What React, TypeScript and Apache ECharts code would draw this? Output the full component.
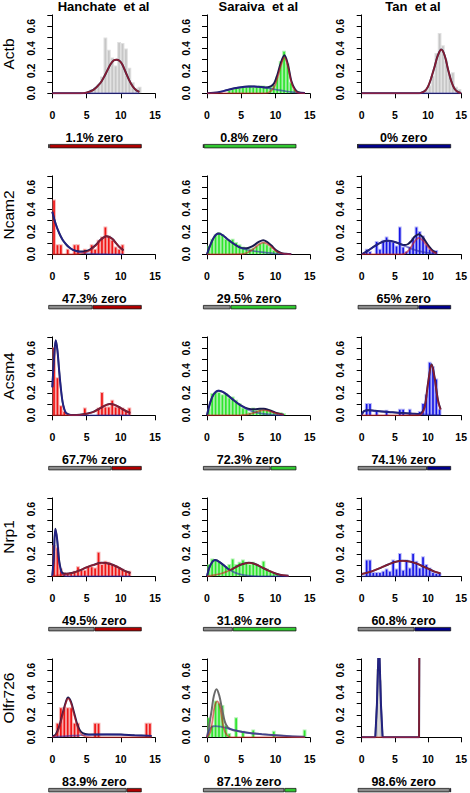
import React, { useEffect, useRef } from "react";
import * as echarts from "echarts";

const FONT = "'Liberation Sans', Arial, Helvetica, sans-serif";

const studies = ["Hanchate  et al", "Saraiva  et al", "Tan  et al"];
const genes = ["Actb", "Ncam2", "Acsm4", "Nrp1", "Olfr726"];
const zeroPct = [
  [1.1, 0.8, 0],
  [47.3, 29.5, 65],
  [67.7, 72.3, 74.1],
  [49.5, 31.8, 60.8],
  [83.9, 87.1, 98.6],
];
const xTickStep = 5;
const yTickStep = 0.1;

// ---------- Actb ----------
const actbHanHist = [[5.25,0.01],[5.75,0.03],[6.25,0.04],[6.75,0.07],[7.25,0.14],[7.75,0.49],[8.25,0.38],[8.75,0.31],[9.25,0.24],[9.75,0.45],[10.25,0.44],[10.75,0.39],[11.25,0.22],[11.75,0.09],[12.25,0.04],[12.75,0.05]];
const actbHanBlue = [[0,0],[12.7,0]];
const actbHanRed = [[0,0],[4,0],[5,0.006],[6,0.03],[7,0.09],[7.5,0.14],[8,0.2],[8.5,0.26],[9,0.295],[9.4,0.3],[9.8,0.29],[10.2,0.26],[10.7,0.19],[11.2,0.12],[11.7,0.065],[12.2,0.03],[12.7,0.012]];

const actbSarHist = [[3.25,0.02],[3.75,0.03],[4.25,0.04],[4.75,0.04],[5.25,0.05],[5.75,0.05],[6.25,0.06],[6.75,0.05],[7.25,0.05],[7.75,0.06],[8.25,0.06],[8.75,0.05],[9.25,0.05],[9.75,0.07],[10.25,0.14],[10.75,0.28],[11.25,0.37],[11.75,0.26],[12.25,0.09],[12.75,0.03],[13.25,0.01]];
const actbSarBlue = [[0,0],[1,0.004],[2,0.014],[3,0.03],[4,0.045],[5,0.055],[6,0.06],[6.8,0.061],[7.5,0.058],[8.5,0.05],[9.5,0.04],[10.5,0.028],[11.5,0.018],[12.5,0.01],[13.5,0.004],[14.3,0.002]];
const actbSarRed = [[0,0],[8,0],[8.8,0.003],[9.3,0.02],[9.8,0.055],[10.3,0.14],[10.8,0.25],[11.3,0.32],[11.8,0.245],[12.3,0.1],[12.8,0.03],[13.3,0.005],[14.3,0]];
const actbSarTotal = [[0,0],[1,0.004],[2,0.014],[3,0.03],[4,0.045],[5,0.055],[6,0.06],[6.8,0.061],[7.5,0.058],[8.5,0.052],[9.3,0.062],[9.8,0.09],[10.3,0.17],[10.8,0.275],[11.3,0.34],[11.8,0.26],[12.3,0.112],[12.8,0.04],[13.3,0.01],[14.3,0.002]];

const actbTanHist = [[9.25,0.01],[9.75,0.02],[10.25,0.06],[10.75,0.15],[11.25,0.35],[11.75,0.53],[12.25,0.42],[12.75,0.29],[13.25,0.16],[13.75,0.18],[14.25,0.05],[14.75,0.03]];
const actbTanBlue = [[0,0],[15,0]];
const actbTanRed = [[0,0],[8.5,0],[9,0.005],[9.5,0.02],[10,0.06],[10.5,0.14],[11,0.24],[11.5,0.34],[12,0.39],[12.5,0.34],[13,0.22],[13.5,0.11],[14,0.04],[14.5,0.012],[15,0.002]];

// ---------- Ncam2 ----------
const ncamHanHist = [[0.25,0.48],[0.75,0.08],[1.25,0.08],[2.25,0.04],[3.25,0.08],[3.75,0.08],[4.75,0.04],[5.75,0.08],[6.25,0.04],[6.75,0.12],[7.25,0.15],[7.75,0.24],[8.25,0.16],[8.75,0.12],[9.25,0.06],[9.75,0.04],[10.25,0.08]];
const ncamHanBlue = [[0,0.38],[0.5,0.27],[1,0.19],[1.5,0.13],[2,0.09],[2.5,0.06],[3,0.04],[3.5,0.028],[4,0.019],[4.5,0.013],[5,0.009],[6,0.004],[7,0.002],[8,0.001],[10.4,0]];
const ncamHanRed = [[0,0],[3,0],[4,0.006],[4.5,0.012],[5,0.02],[5.5,0.035],[6,0.06],[6.5,0.09],[7,0.125],[7.5,0.15],[7.9,0.16],[8.3,0.155],[8.8,0.135],[9.3,0.1],[9.8,0.065],[10.4,0.035]];
const ncamHanTotal = [[0,0.38],[0.5,0.27],[1,0.19],[1.5,0.13],[2,0.09],[2.5,0.06],[3,0.04],[3.5,0.03],[4,0.025],[4.5,0.025],[5,0.029],[5.5,0.042],[6,0.064],[6.5,0.092],[7,0.127],[7.5,0.151],[7.9,0.161],[8.3,0.156],[8.8,0.136],[9.3,0.1],[9.8,0.065],[10.4,0.035]];

const ncamSarHist = [[0.25,0.07],[0.75,0.13],[1.25,0.17],[1.75,0.19],[2.25,0.17],[2.75,0.13],[3.25,0.12],[3.75,0.13],[4.25,0.1],[4.75,0.08],[5.25,0.06],[5.75,0.05],[6.25,0.04],[6.75,0.05],[7.25,0.07],[7.75,0.09],[8.25,0.1],[8.75,0.08],[9.25,0.06],[9.75,0.03],[10.25,0.02],[10.75,0.01]];
const ncamSarBlue = [[0,0],[0.4,0.07],[0.9,0.14],[1.3,0.175],[1.75,0.185],[2.3,0.17],[3,0.135],[4,0.09],[5,0.055],[6,0.038],[7,0.027],[8,0.019],[9,0.012],[10,0.007],[11,0.003],[12.3,0.001]];
const ncamSarRed = [[0,0],[5,0.002],[5.5,0.007],[6,0.018],[6.5,0.036],[7,0.06],[7.5,0.085],[8.2,0.105],[8.8,0.093],[9.4,0.065],[10.1,0.028],[10.8,0.009],[11.5,0.003],[12.3,0]];
const ncamSarTotal = [[0,0],[0.4,0.07],[0.9,0.14],[1.3,0.175],[1.75,0.185],[2.3,0.17],[3,0.135],[4,0.09],[5,0.057],[5.5,0.054],[6,0.056],[6.5,0.068],[7,0.087],[7.5,0.108],[8.2,0.125],[8.8,0.109],[9.4,0.078],[10.1,0.035],[10.8,0.013],[11.5,0.005],[12.3,0.001]];

const ncamTanHist = [[0.75,0.04],[1.25,0.02],[2.25,0.11],[2.75,0.04],[3.25,0.12],[3.75,0.15],[4.25,0.11],[4.75,0.1],[5.25,0.07],[5.75,0.24],[6.25,0.06],[6.75,0.02],[7.25,0.06],[7.75,0.14],[8.25,0.24],[8.75,0.2],[9.25,0.16],[9.75,0.08],[10.25,0.04],[10.75,0.03],[11.25,0.03]];
const ncamTanBlue = [[0,0],[1,0.035],[2,0.075],[3,0.108],[4,0.12],[5,0.11],[6,0.088],[7,0.062],[8,0.04],[9,0.024],[10,0.013],[11.3,0.005]];
const ncamTanRed = [[0,0],[6,0],[6.5,0.008],[7,0.03],[7.5,0.07],[8,0.115],[8.6,0.146],[9.2,0.125],[9.8,0.08],[10.3,0.045],[10.8,0.02],[11.3,0.008]];
const ncamTanTotal = [[0,0],[1,0.035],[2,0.075],[3,0.108],[4,0.12],[5,0.11],[6,0.088],[6.5,0.083],[7,0.092],[7.5,0.12],[8,0.158],[8.6,0.18],[9.2,0.153],[9.8,0.1],[10.3,0.06],[10.8,0.03],[11.3,0.013]];

// ---------- Acsm4 ----------
const acsmHanHist = [[0.25,0.6],[0.75,0.33],[1.25,0.08],[1.75,0.03],[4.75,0.06],[6.75,0.06],[7.25,0.2],[7.75,0.07],[8.25,0.07],[8.75,0.13],[9.25,0.07],[9.75,0.07],[10.25,0.06],[10.75,0.04],[11.25,0.06]];
const acsmHanBlue = [[0,0.25],[0.25,0.5],[0.5,0.67],[0.75,0.58],[1,0.4],[1.25,0.24],[1.5,0.12],[1.75,0.055],[2,0.022],[2.5,0.004],[3,0],[11.4,0]];
const acsmHanRed = [[0,0],[3,0.001],[4,0.004],[5,0.013],[6,0.03],[7,0.065],[8,0.095],[8.4,0.1],[9,0.095],[10,0.065],[11,0.03],[11.4,0.022]];
const acsmHanTotal = [[0,0.25],[0.25,0.5],[0.5,0.67],[0.75,0.58],[1,0.4],[1.25,0.24],[1.5,0.12],[1.75,0.055],[2,0.022],[2.5,0.006],[3,0.003],[4,0.005],[5,0.014],[6,0.03],[7,0.065],[8,0.095],[8.4,0.1],[9,0.095],[10,0.065],[11,0.03],[11.4,0.022]];

const acsmSarHist = [[0.25,0.05],[0.75,0.19],[1.25,0.2],[1.75,0.2],[2.25,0.18],[2.75,0.19],[3.25,0.15],[3.75,0.16],[4.25,0.13],[4.75,0.1],[5.25,0.06],[5.75,0.05],[6.25,0.02],[6.75,0.06],[7.25,0.04],[7.75,0.05],[8.25,0.05],[8.75,0.04],[9.25,0.04],[9.75,0.02],[10.25,0.02],[10.75,0.02],[11.25,0.01]];
const acsmSarBlue = [[0,0],[0.5,0.12],[1,0.19],[1.65,0.22],[2.3,0.21],[3,0.18],[4,0.13],[5,0.085],[6,0.05],[7,0.028],[8,0.015],[9,0.008],[10,0.004],[11.2,0.001]];
const acsmSarRed = [[0,0],[5,0.001],[6,0.008],[7,0.025],[7.7,0.04],[8.3,0.045],[9,0.04],[10,0.02],[11.2,0.005]];
const acsmSarTotal = [[0,0],[0.5,0.12],[1,0.19],[1.65,0.22],[2.3,0.21],[3,0.18],[4,0.13],[5,0.086],[6,0.058],[7,0.053],[7.7,0.058],[8.3,0.058],[9,0.048],[10,0.024],[11.2,0.006]];

const acsmTanHist = [[0.75,0.1],[1.25,0.1],[2.25,0.03],[3.75,0.04],[5.75,0.05],[6.25,0.05],[7.25,0.05],[8.75,0.03],[9.25,0.1],[9.75,0.18],[10.25,0.47],[10.75,0.43],[11.25,0.32],[11.75,0.05]];
const acsmTanBlue = [[0,0],[0.3,0.035],[1,0.045],[2,0.04],[4,0.03],[6,0.02],[8,0.012],[10,0.006],[11.9,0.003]];
const acsmTanRed = [[0,0],[8.5,0],[9,0.01],[9.5,0.07],[10,0.28],[10.55,0.45],[11,0.33],[11.5,0.13],[11.9,0.05]];
const acsmTanTotal = [[0,0],[0.3,0.035],[1,0.045],[2,0.04],[4,0.03],[6,0.02],[8,0.013],[8.5,0.012],[9,0.02],[9.5,0.075],[10,0.285],[10.55,0.455],[11,0.335],[11.5,0.135],[11.9,0.053]];

// ---------- Nrp1 ----------
const nrpHanHist = [[0.25,0.27],[0.75,0.25],[1.25,0.06],[1.75,0.03],[2.25,0.02],[2.75,0.03],[3.25,0.04],[3.75,0.08],[4.25,0.05],[4.75,0.05],[5.25,0.08],[5.75,0.08],[6.25,0.07],[6.75,0.21],[7.25,0.1],[7.75,0.13],[8.25,0.12],[8.75,0.1],[9.25,0.09],[9.75,0.07],[10.25,0.06],[10.75,0.04],[11.25,0.04]];
const nrpHanBlue = [[0,0],[0.2,0.15],[0.45,0.42],[0.7,0.33],[1,0.13],[1.3,0.04],[1.6,0.01],[2,0.002],[3,0],[11.4,0]];
const nrpHanRed = [[0,0.002],[1,0.009],[2,0.02],[3,0.032],[4,0.053],[5,0.08],[6,0.102],[7.2,0.12],[8.5,0.11],[9.5,0.085],[10.5,0.05],[11.4,0.03]];
const nrpHanTotal = [[0,0.002],[0.2,0.155],[0.45,0.425],[0.7,0.335],[1,0.14],[1.3,0.05],[1.6,0.025],[2,0.022],[3,0.032],[4,0.053],[5,0.08],[6,0.102],[7.2,0.12],[8.5,0.11],[9.5,0.085],[10.5,0.05],[11.4,0.03]];

const nrpSarHist = [[0.25,0.1],[0.75,0.15],[1.25,0.14],[1.75,0.12],[2.25,0.1],[2.75,0.08],[3.25,0.1],[3.75,0.15],[4.25,0.1],[4.75,0.12],[5.25,0.14],[5.75,0.12],[6.25,0.1],[6.75,0.12],[7.25,0.1],[7.75,0.08],[8.25,0.13],[8.75,0.06],[9.25,0.04],[9.75,0.03],[10.25,0.02],[10.75,0.01]];
const nrpSarBlue = [[0,0],[0.5,0.1],[1.2,0.145],[2,0.12],[3,0.07],[4,0.035],[5,0.015],[6,0.006],[7,0.002],[8,0],[11.9,0]];
const nrpSarRed = [[0,0],[1,0.01],[2,0.023],[3,0.045],[4,0.075],[5,0.105],[6.1,0.12],[7,0.11],[8,0.08],[9,0.05],[10,0.025],[11,0.01],[11.9,0.004]];
const nrpSarTotal = [[0,0],[0.5,0.1],[1.2,0.145],[2,0.12],[3,0.07],[3.4,0.057],[4,0.075],[5,0.105],[6.1,0.12],[7,0.11],[8,0.08],[9,0.05],[10,0.025],[11,0.01],[11.9,0.004]];

const nrpTanHist = [[0.75,0.14],[1.25,0.14],[1.75,0.03],[2.25,0.03],[2.75,0.03],[3.25,0.04],[3.75,0.06],[4.25,0.04],[4.75,0.14],[5.25,0.06],[5.75,0.2],[6.25,0.05],[6.75,0.14],[7.25,0.07],[7.75,0.2],[8.25,0.13],[8.75,0.07],[9.25,0.17],[9.75,0.1],[10.25,0.07],[10.75,0.03],[11.25,0.02],[11.75,0.02]];
const nrpTanBlue = [[0,0],[11.9,0]];
const nrpTanRed = [[0,0.02],[1,0.035],[2,0.055],[3,0.08],[4,0.105],[5,0.128],[6.2,0.138],[7.2,0.132],[8.2,0.115],[9.2,0.09],[10.2,0.063],[11,0.042],[11.9,0.025]];

// ---------- Olfr726 ----------
const olfHanHist = [[0.75,0.12],[1.25,0.26],[1.75,0.26],[2.25,0.26],[2.75,0.26],[3.25,0.12],[3.75,0.12],[6.25,0.12],[6.75,0.12],[13.75,0.12],[14.25,0.12]];
const olfHanBlue = [[0,0.005],[2,0.01],[4,0.018],[6,0.024],[8,0.026],[10,0.024],[12,0.018],[14.5,0.012]];
const olfHanRed = [[0,0.002],[0.5,0.015],[1,0.085],[1.5,0.2],[2,0.31],[2.3,0.345],[2.7,0.31],[3.2,0.2],[3.7,0.09],[4.2,0.03],[4.8,0.008],[5.5,0.001],[6,0],[14.5,0]];
const olfHanTotal = [[0,0.007],[0.5,0.025],[1,0.095],[1.5,0.21],[2,0.32],[2.3,0.355],[2.7,0.32],[3.2,0.215],[3.7,0.105],[4.2,0.048],[4.8,0.03],[5.5,0.025],[6,0.024],[8,0.026],[10,0.024],[12,0.018],[14.5,0.012]];

const olfSarHist = [[0.25,0.17],[0.75,0.1],[1.25,0.32],[1.75,0.3],[2.25,0.28],[2.75,0.1],[3.25,0.03],[4.25,0.17],[5.25,0.05],[6.75,0.06],[9.75,0.05],[14.25,0.06]];
const olfSarBlue = [[0,0],[0.3,0.06],[0.7,0.095],[1.2,0.1],[2,0.095],[3,0.08],[4,0.065],[5,0.05],[6,0.04],[8,0.028],[10,0.018],[12,0.01],[14.3,0.005]];
const olfSarRed = [[0,0],[0.5,0.05],[0.8,0.15],[1.1,0.27],[1.5,0.32],[1.9,0.27],[2.2,0.16],[2.5,0.07],[2.9,0.02],[3.3,0.003],[3.7,0],[14.3,0]];
const olfSarTotal = [[0,0],[0.3,0.1],[0.7,0.25],[1,0.37],[1.4,0.43],[1.8,0.37],[2.2,0.25],[2.6,0.14],[3,0.09],[3.5,0.07],[4,0.06],[5,0.05],[6,0.04],[8,0.028],[10,0.018],[12,0.01],[14.3,0.005]];

const olfTanHist = [[2.4,0.6],[2.8,0.5]];
const olfTanBlue = [[0,0],[2.05,0],[2.3,0.3],[2.5,0.7],[2.6,0.8],[2.7,0.7],[2.9,0.3],[3.15,0],[8.7,0]];
const olfTanRed = [[0,0],[8.65,0],[8.7,0.9]];
const olfTanTotal = [[0,0],[2.05,0],[2.3,0.3],[2.5,0.7],[2.6,0.8],[2.7,0.7],[2.9,0.3],[3.15,0],[8.65,0],[8.7,0.9]];

type Panel = { hist: number[][]; blue: number[][]; red: number[][]; total: number[][]; kind: string; bw?: number; smooth?: boolean; totalColor?: string };

const panels: Panel[] = [
  { hist: actbHanHist, blue: actbHanBlue, red: actbHanRed, total: actbHanRed, kind: "gray" },
  { hist: actbSarHist, blue: actbSarBlue, red: actbSarRed, total: actbSarTotal, kind: "green" },
  { hist: actbTanHist, blue: actbTanBlue, red: actbTanRed, total: actbTanRed, kind: "gray" },
  { hist: ncamHanHist, blue: ncamHanBlue, red: ncamHanRed, total: ncamHanTotal, kind: "red" },
  { hist: ncamSarHist, blue: ncamSarBlue, red: ncamSarRed, total: ncamSarTotal, kind: "green" },
  { hist: ncamTanHist, blue: ncamTanBlue, red: ncamTanRed, total: ncamTanTotal, kind: "blue" },
  { hist: acsmHanHist, blue: acsmHanBlue, red: acsmHanRed, total: acsmHanTotal, kind: "red" },
  { hist: acsmSarHist, blue: acsmSarBlue, red: acsmSarRed, total: acsmSarTotal, kind: "green" },
  { hist: acsmTanHist, blue: acsmTanBlue, red: acsmTanRed, total: acsmTanTotal, kind: "blue" },
  { hist: nrpHanHist, blue: nrpHanBlue, red: nrpHanRed, total: nrpHanTotal, kind: "red" },
  { hist: nrpSarHist, blue: nrpSarBlue, red: nrpSarRed, total: nrpSarTotal, kind: "green" },
  { hist: nrpTanHist, blue: nrpTanBlue, red: nrpTanRed, total: nrpTanRed, kind: "blue" },
  { hist: olfHanHist, blue: olfHanBlue, red: olfHanRed, total: olfHanTotal, kind: "red" },
  { hist: olfSarHist, blue: olfSarBlue, red: olfSarRed, total: olfSarTotal, kind: "green", totalColor: "#6a6a6a" },
  { hist: olfTanHist, blue: olfTanBlue, red: olfTanRed, total: olfTanTotal, kind: "gray", bw: 0.4, smooth: false },
];

const HIST_COLORS: Record<string, { core: string; halo: string }> = {
  gray: { core: "#c6c6c6", halo: "#e0e0e0" },
  red: { core: "#f01414", halo: "rgba(240,120,120,0.55)" },
  green: { core: "#2ee62e", halo: "rgba(120,230,120,0.55)" },
  blue: { core: "#1414e6", halo: "rgba(130,130,240,0.55)" },
};
const BAR_COLORS = ["#b00000", "#30c830", "#00008c"];

// layout
const COL_X0 = [52.3, 207, 361.7];
const ROW_Y0 = 93.3;
const ROW_STEP = 161;
const UX = 6.85;
const UY = 112;

function buildOption() {
  const grid: any[] = [];
  const xAxis: any[] = [];
  const yAxis: any[] = [];
  const series: any[] = [];
  const graphic: any[] = [];
  const axisLabelBase = { color: "#000", fontSize: 10.5, fontWeight: "bold", fontFamily: FONT };

  panels.forEach((p, idx) => {
    const r = Math.floor(idx / 3);
    const c = idx % 3;
    const x0 = COL_X0[c];
    const y0 = ROW_Y0 + ROW_STEP * r;
    const gi = grid.length;
    grid.push({ left: x0, top: y0 - 0.7 * UY, width: 15 * UX, height: 0.7 * UY });
    xAxis.push({
      gridIndex: gi, type: "value", min: 0, max: 15, interval: xTickStep, offset: 4,
      axisLine: { show: true, lineStyle: { color: "#000", width: 1 } },
      axisTick: { show: true, length: 5, lineStyle: { color: "#000", width: 1 } },
      axisLabel: { ...axisLabelBase, margin: 12 },
      splitLine: { show: false },
    });
    yAxis.push({
      gridIndex: gi, type: "value", min: 0, max: 0.7, interval: yTickStep, offset: 1,
      axisLine: { show: true, lineStyle: { color: "#000", width: 1 } },
      axisTick: { show: true, length: 5, lineStyle: { color: "#000", width: 1 } },
      axisLabel: {
        ...axisLabelBase, rotate: 90, margin: 15,
        formatter: (v: number) => { const k = Math.round(v * 10); return k % 2 === 0 ? (k / 10).toFixed(1) : ""; },
      },
      splitLine: { show: false },
    });
    const hc = HIST_COLORS[p.kind];
    const bw = p.bw ?? 0.5;
    series.push({
      type: "custom", xAxisIndex: gi, yAxisIndex: gi, data: p.hist, clip: true, silent: true, z: 2,
      renderItem: (_params: any, api: any) => {
        const x = api.value(0), y = api.value(1);
        const a = api.coord([x - bw / 2, y]);
        const b = api.coord([x + bw / 2, 0]);
        const w = b[0] - a[0], h = b[1] - a[1];
        const iw = w * 0.5;
        return {
          type: "group",
          children: [
            { type: "rect", shape: { x: a[0] - 0.2, y: a[1] - 1, width: w + 0.4, height: h + 1 }, style: { fill: hc.halo } },
            { type: "rect", shape: { x: a[0] + (w - iw) / 2, y: a[1], width: iw, height: h }, style: { fill: hc.core } },
          ],
        };
      },
    });
    const smooth = p.smooth === false ? false : 0.35;
    const line = (data: number[][], color: string, width: number, opacity: number, z: number) => ({
      type: "line", xAxisIndex: gi, yAxisIndex: gi, data, smooth, symbol: "none", showSymbol: false,
      silent: true, clip: true, z, lineStyle: { color, width, opacity },
    });
    if (p.total.length) series.push(line(p.total, p.totalColor ?? "#1a1a4e", 2, 1, 3));
    series.push(line(p.blue, "#2828a8", 1.7, 0.6, 4));
    series.push(line(p.red, "#cc1e1e", 1.7, 0.6, 5));

    // zero-fraction bar
    const bi = grid.length;
    grid.push({ left: x0 - 4, top: y0 + 50.7, width: 93.4, height: 4.3 });
    xAxis.push({ gridIndex: bi, type: "value", min: 0, max: 100, show: false });
    yAxis.push({ gridIndex: bi, type: "category", data: ["zero"], show: false });
    const z = zeroPct[r][c];
    series.push({
      type: "bar", xAxisIndex: bi, yAxisIndex: bi, stack: "s" + idx, data: [z], barWidth: 4.3, silent: true,
      itemStyle: { color: "#8c8c8c", borderColor: "#1a1a1a", borderWidth: 0.8 },
    });
    series.push({
      type: "bar", xAxisIndex: bi, yAxisIndex: bi, stack: "s" + idx, data: [100 - z], barWidth: 4.3, silent: true,
      itemStyle: { color: BAR_COLORS[c], borderColor: "#1a1a1a", borderWidth: 0.8 },
    });
    graphic.push({
      type: "text", x: x0 + 42, y: y0 + 51.3, silent: true,
      style: { text: `${z}% zero`, font: `bold 12.5px ${FONT}`, fill: "#000", align: "center", verticalAlign: "bottom", textAlign: "center", textVerticalAlign: "bottom" },
    });
  });

  studies.forEach((s, c) => {
    graphic.push({
      type: "text", x: COL_X0[c] + 51.3, y: 6.5, silent: true,
      style: { text: s, font: `bold 13px ${FONT}`, fill: "#000", align: "center", verticalAlign: "middle", textAlign: "center", textVerticalAlign: "middle" },
    });
  });
  genes.forEach((g, r) => {
    graphic.push({
      type: "text", x: 8, y: 54 + ROW_STEP * r, rotation: Math.PI / 2, silent: true,
      style: { text: g, font: `15.5px ${FONT}`, fill: "#000", align: "center", verticalAlign: "middle", textAlign: "center", textVerticalAlign: "middle" },
    });
  });

  return { animation: false, backgroundColor: "#fff", grid, xAxis, yAxis, series, graphic };
}

export default function App() {
  const ref = useRef<HTMLDivElement>(null);
  useEffect(() => {
    if (!ref.current) return;
    const chart = echarts.init(ref.current, null, { renderer: "svg" });
    chart.setOption(buildOption() as any);
    return () => chart.dispose();
  }, []);
  return <div ref={ref} style={{ position: "fixed", left: 0, top: 0, width: 470, height: 793, background: "#fff" }} />;
}
